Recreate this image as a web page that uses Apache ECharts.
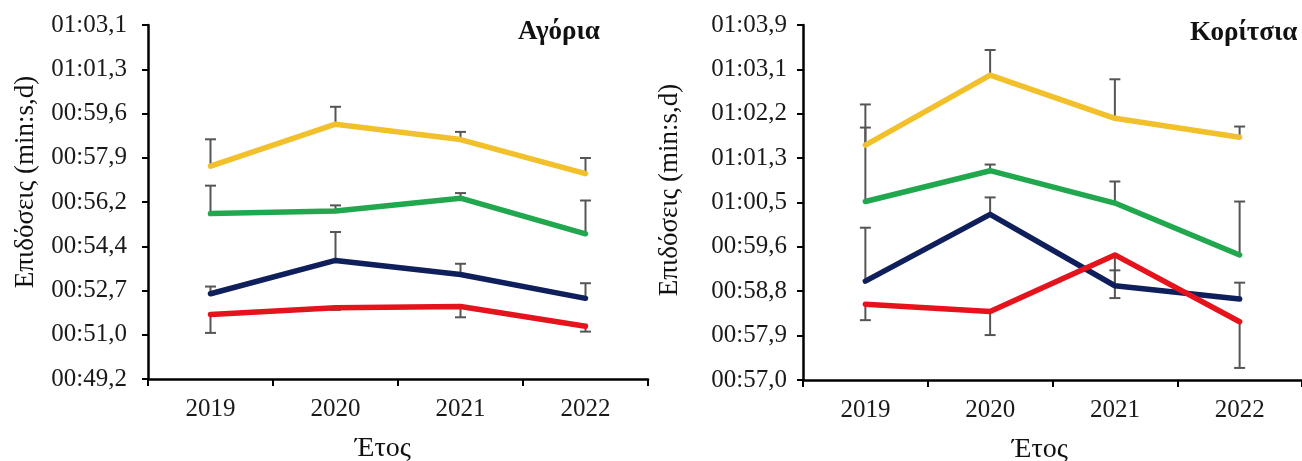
<!DOCTYPE html>
<html>
<head>
<meta charset="utf-8">
<script src="https://cdn.jsdelivr.net/npm/echarts@6/dist/echarts.min.js"></script>
<style>
  html, body { margin: 0; padding: 0; background: #ffffff; }
  #chart { width: 1302px; height: 461px; }
</style>
</head>
<body>
<div id="chart"></div>
<script>
// ---------- data (seconds) ----------
const years = ['2019', '2020', '2021', '2022'];

// Boys (Αγόρια)
const boysYellow = [57.55, 59.19, 58.59, 57.26];
const boysYellowErr = [1.05, 0.68, 0.30, 0.61];
const boysGreen = [55.70, 55.80, 56.30, 54.91];
const boysGreenErr = [1.09, 0.22, 0.20, 1.30];
const boysNavy = [52.57, 53.87, 53.32, 52.39];
const boysNavyErr = [0.28, 1.11, 0.42, 0.59];
const boysRed = [51.76, 52.02, 52.07, 51.30];
const boysRedErr = [0.72, 0.08, 0.42, 0.21];

// Girls (Κορίτσια)
const girlsYellow = [61.60, 62.96, 62.12, 61.75];
const girlsYellowErr = [0.79, 0.49, 0.76, 0.21];
const girlsGreen = [60.50, 61.10, 60.47, 59.46];
const girlsGreenErr = [1.44, 0.12, 0.42, 1.04];
const girlsNavy = [58.95, 60.25, 58.86, 58.60];
const girlsNavyErr = [1.04, 0.33, 0.30, 0.32];
const girlsRed = [58.50, 58.36, 59.46, 58.16];
const girlsRedErr = [0.31, 0.46, 0.84, 0.90];

// Axis ranges and tick labels
const boysMin = 49.24, boysMax = 63.064;
const boysTickLabels = ['00:49,2', '00:51,0', '00:52,7', '00:54,4', '00:56,2', '00:57,9', '00:59,6', '01:01,3', '01:03,1'];
const girlsMin = 57.025, girlsMax = 63.937;
const girlsTickLabels = ['00:57,0', '00:57,9', '00:58,8', '00:59,6', '01:00,5', '01:01,3', '01:02,2', '01:03,1', '01:03,9'];

// ---------- build options ----------
const FONT = 'Liberation Serif, Times New Roman, serif';
const COLORS = { yellow: '#F2C02A', green: '#21A84E', navy: '#0E1F5B', red: '#E5131B' };
const ERR_COLOR = '#555555';

function tickValues(min, max, n) {
  const step = (max - min) / (n - 1);
  const out = [];
  for (let i = 0; i < n; i++) out.push(min + i * step);
  return out;
}
const boysTicks = tickValues(boysMin, boysMax, boysTickLabels.length);
const girlsTicks = tickValues(girlsMin, girlsMax, girlsTickLabels.length);

function labelFormatter(min, max, labels) {
  const step = (max - min) / (labels.length - 1);
  return function (v) {
    const i = Math.round((v - min) / step);
    return labels[i] !== undefined ? labels[i] : '';
  };
}

function xAxisDef(gridIndex) {
  return {
    type: 'category', gridIndex: gridIndex, data: years,
    axisLine: { show: true, onZero: false, lineStyle: { color: '#000', width: 2.5 } },
    axisTick: { show: true, length: 7, lineStyle: { color: '#000', width: 2 } },
    axisLabel: { margin: 18, fontFamily: FONT, fontSize: 25, color: '#1a1a1a' },
    splitLine: { show: false }
  };
}
function yAxisDef(gridIndex, min, max, ticks, labels, margin) {
  return {
    type: 'value', gridIndex: gridIndex, min: min, max: max,
    axisLine: { show: true, onZero: false, lineStyle: { color: '#000', width: 2.5 } },
    axisTick: { show: true, length: 6, customValues: ticks, lineStyle: { color: '#000', width: 2 } },
    axisLabel: {
      customValues: ticks, showMinLabel: true, showMaxLabel: true,
      formatter: labelFormatter(min, max, labels),
      margin: margin, fontFamily: FONT, fontSize: 25, color: '#1a1a1a'
    },
    splitLine: { show: false }
  };
}

function lineSeries(axis, values, color) {
  return {
    type: 'line', xAxisIndex: axis, yAxisIndex: axis, data: values,
    symbol: 'none', showSymbol: false, z: 3,
    lineStyle: { color: color, width: 5.5, cap: 'round', join: 'round' },
    emphasis: { disabled: true }, silent: true
  };
}
// dir: +1 => bar above mean, -1 => below mean
function errSeries(axis, values, errs, dir) {
  const data = values.map(function (v, i) { return [i, v, errs[i]]; });
  return {
    type: 'custom', xAxisIndex: axis, yAxisIndex: axis, data: data, z: 2, silent: true,
    renderItem: function (params, api) {
      const i = api.value(0), v = api.value(1), e = api.value(2);
      const p0 = api.coord([i, v]);
      const p1 = api.coord([i, v + dir * e]);
      const half = 5.5;
      const st = { stroke: ERR_COLOR, lineWidth: 2 };
      return {
        type: 'group',
        children: [
          { type: 'line', shape: { x1: p0[0], y1: p0[1], x2: p1[0], y2: p1[1] }, style: st },
          { type: 'line', shape: { x1: p1[0] - half, y1: p1[1], x2: p1[0] + half, y2: p1[1] }, style: st }
        ]
      };
    }
  };
}

function txt(text, x, y, opts) {
  opts = opts || {};
  return {
    type: 'text', x: x, y: y, rotation: opts.rotation || 0, silent: true,
    style: {
      text: text, fill: '#111',
      font: (opts.bold ? 'bold ' : '') + (opts.size || 27) + 'px ' + FONT,
      align: opts.align || 'center', verticalAlign: 'middle',
      textAlign: opts.align || 'center', textVerticalAlign: 'middle'
    }
  };
}

const option = {
  animation: false,
  backgroundColor: '#ffffff',
  grid: [
    { left: 148, top: 25, width: 500, height: 354 },
    { left: 803, top: 25, width: 508, height: 355 }
  ],
  xAxis: [xAxisDef(0), xAxisDef(1)],
  yAxis: [
    yAxisDef(0, boysMin, boysMax, boysTicks, boysTickLabels, 21),
    yAxisDef(1, girlsMin, girlsMax, girlsTicks, girlsTickLabels, 16)
  ],
  series: [
    errSeries(0, boysYellow, boysYellowErr, 1),
    errSeries(0, boysGreen, boysGreenErr, 1),
    errSeries(0, boysNavy, boysNavyErr, 1),
    errSeries(0, boysRed, boysRedErr, -1),
    lineSeries(0, boysYellow, COLORS.yellow),
    lineSeries(0, boysGreen, COLORS.green),
    lineSeries(0, boysNavy, COLORS.navy),
    lineSeries(0, boysRed, COLORS.red),
    errSeries(1, girlsYellow, girlsYellowErr, 1),
    errSeries(1, girlsGreen, girlsGreenErr, 1),
    errSeries(1, girlsNavy, girlsNavyErr, 1),
    errSeries(1, girlsRed, girlsRedErr, -1),
    lineSeries(1, girlsYellow, COLORS.yellow),
    lineSeries(1, girlsGreen, COLORS.green),
    lineSeries(1, girlsNavy, COLORS.navy),
    lineSeries(1, girlsRed, COLORS.red)
  ],
  graphic: [
    txt('Αγόρια', 559, 32, { bold: true, size: 27 }),
    txt('Κορίτσια', 1190, 33, { bold: true, size: 27, align: 'left' }),
    txt('Έτος', 383, 449, { size: 28 }),
    txt('Έτος', 1040, 450, { size: 28 }),
    txt('Επιδόσεις (min:s,d)', 26, 182, { rotation: Math.PI / 2, size: 27 }),
    txt('Επιδόσεις (min:s,d)', 670, 190, { rotation: Math.PI / 2, size: 27 })
  ]
};

const chart = echarts.init(document.getElementById('chart'), null, { renderer: 'canvas' });
chart.setOption(option);
</script>
</body>
</html>
